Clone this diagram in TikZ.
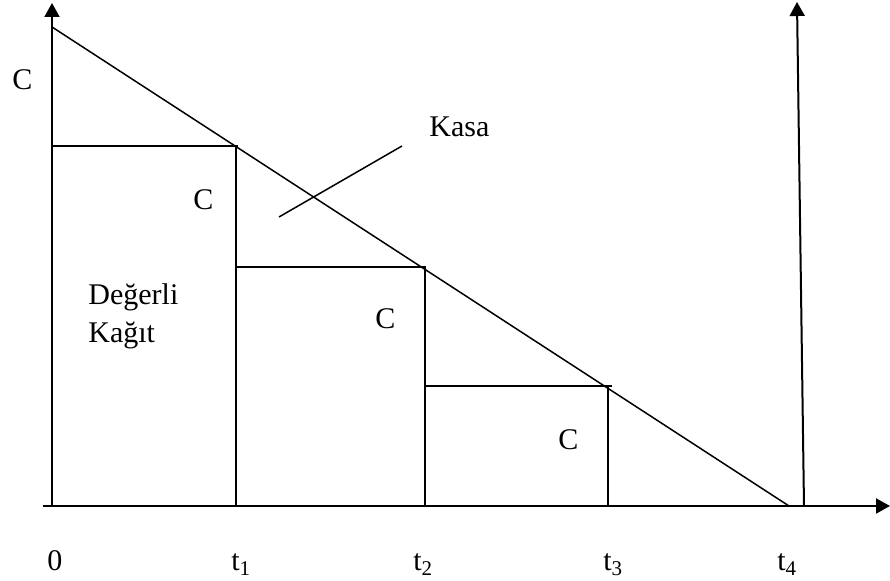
\documentclass[tikz,border=0pt]{standalone}
\usepackage{fontspec}
\setmainfont{Liberation Serif}
\usetikzlibrary{arrows.meta}

\begin{document}
\begin{tikzpicture}[x=0.5pt,y=-0.5pt,
  axis/.style={line width=1pt,-{Triangle[length=7pt,width=7.5pt]}},
  thinline/.style={line width=0.75pt},
  lbl/.style={font=\fontsize{15}{19}\selectfont,inner sep=0pt,anchor=base west}]
\def\xo{52}
\def\yo{506}

\useasboundingbox (0,0) rectangle (890,581);

%axes
\coordinate (O) at (\xo,\yo);
\coordinate (xs) at (43,\yo);
\coordinate (xe) at (890,\yo);
\coordinate (ye) at (\xo,3);
\coordinate (vs) at (804,\yo);
\coordinate (ve) at (797,2);
\draw[axis] (xs) -- (xe);
\draw[axis] (O) -- (ye);
\draw[axis] (vs) -- (ve);

%kasa line
\coordinate (top) at (\xo,27);
\coordinate (end) at (789,\yo);
\draw[thinline] (top) -- (end);

%steps
\coordinate (a1) at (\xo,146);
\coordinate (a2) at (238,146);
\coordinate (a3) at (236,\yo);
\coordinate (b1) at (236,267);
\coordinate (b2) at (426,267);
\coordinate (b3) at (425,\yo);
\coordinate (c1) at (425,386);
\coordinate (c2) at (612,386);
\coordinate (c3) at (608,\yo);
\draw[thinline] (a1) -- (a2);
\draw[thinline] (236,146) -- (a3);
\draw[thinline] (b1) -- (b2);
\draw[thinline] (425,267) -- (b3);
\draw[thinline] (c1) -- (c2);
\draw[thinline] (608,386) -- (c3);

%pointer
\coordinate (p1) at (279,217);
\coordinate (p2) at (402,146);
\draw[thinline] (p1) -- (p2);

%labels
\node[lbl] (cA) at (12,90) {C};
\node[lbl] (cB) at (193,210) {C};
\node[lbl] (cC) at (375,329) {C};
\node[lbl] (cD) at (558,450) {C};
\node[lbl] (kasa) at (429,137) {Kasa};
\node[lbl] (deg1) at (88,305) {Değerli};
\node[lbl] (deg2) at (88,343) {Kağıt};

\node[lbl] (t0) at (47,571) {0};
\node[lbl] (t1) at (231,571) {t\textsubscript{1}};
\node[lbl] (t2) at (413,571) {t\textsubscript{2}};
\node[lbl] (t3) at (603,571) {t\textsubscript{3}};
\node[lbl] (t4) at (777,571) {t\textsubscript{4}};

\end{tikzpicture}
\end{document}
